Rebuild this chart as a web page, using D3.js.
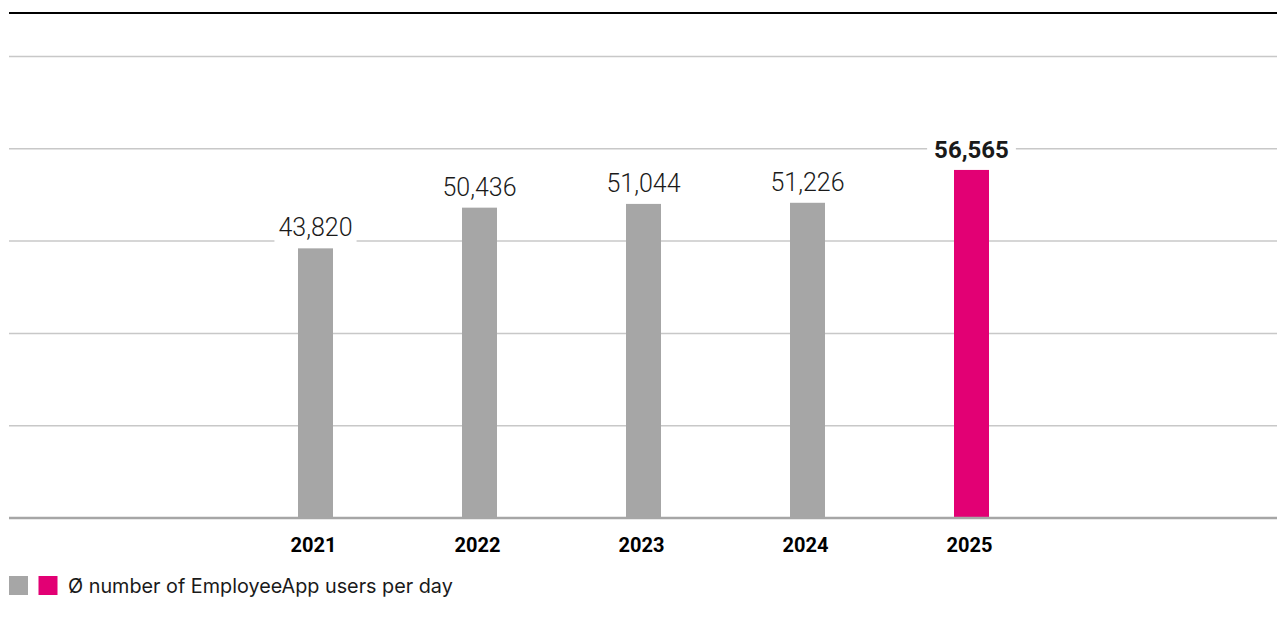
<!DOCTYPE html>
<html>
<head>
<meta charset="utf-8">
<script src="https://cdn.jsdelivr.net/npm/d3@7"></script>
<style>
  body { margin: 0; background: #fff; }
  svg { display: block; }
</style>
</head>
<body>
<div id="chart"></div>
<script>
// chart data
var years = ["2021", "2022", "2023", "2024", "2025"];
var users = [43820, 50436, 51044, 51226, 56565];
var yTicks = [0, 15000, 30000, 45000, 60000, 75000];
var legendLabel = "Ø number of EmployeeApp users per day";

var W = 1277, H = 618;
var left = 9, right = 1277;
var fontFam = "Roboto, 'Noto Sans', sans-serif";

var svg = d3.select("#chart").append("svg")
    .attr("width", W)
    .attr("height", H);

// scales
var x = d3.scaleBand()
    .domain(years)
    .range([233.5, 1053.5])
    .paddingInner(0.7866)
    .paddingOuter(0.3933);

var y = d3.scaleLinear()
    .domain([0, 75000])
    .range([518, 56.5]);

// top rule
svg.append("line")
    .attr("x1", left).attr("x2", right)
    .attr("y1", 13).attr("y2", 13)
    .style("stroke", "#000")
    .style("stroke-width", 2);

// gridlines
svg.append("g").selectAll("line")
    .data(yTicks.slice(1))
    .enter().append("line")
    .attr("x1", left).attr("x2", right)
    .attr("y1", function(d) { return y(d); })
    .attr("y2", function(d) { return y(d); })
    .style("stroke", "#c8c8c8")
    .style("stroke-width", 1.5);

// bars
var data = years.map(function(d, i) { return {year: d, value: users[i], last: i == years.length - 1}; });

svg.append("g").selectAll("rect")
    .data(data)
    .enter().append("rect")
    .attr("x", function(d) { return x(d.year); })
    .attr("width", x.bandwidth())
    .attr("y", function(d) { return y(d.value); })
    .attr("height", function(d) { return y(0) - y(d.value); })
    .style("fill", function(d) { return d.last ? "#e20074" : "#a6a6a6"; });

// baseline
svg.append("line")
    .attr("x1", left).attr("x2", right)
    .attr("y1", y(0)).attr("y2", y(0))
    .style("stroke", "#a6a6a6")
    .style("stroke-width", 2.5);

// value labels with white knockout
var labels = svg.append("g").selectAll("g")
    .data(data)
    .enter().append("g");

labels.append("rect").attr("class", "bg").style("fill", "#fff");

labels.append("text")
    .attr("x", function(d) { return x(d.year) + x.bandwidth() / 2; })
    .attr("y", function(d) { return y(d.value) - 12; })
    .attr("text-anchor", "middle")
    .style("font-family", fontFam)
    .style("font-size", function(d) { return d.last ? "24px" : "25px"; })
    .style("font-weight", function(d) { return d.last ? 700 : 300; })
    .style("fill", "#1a1a1a")
    .text(function(d) { return d3.format(",")(d.value); });

labels.each(function(d) {
    var g = d3.select(this);
    var bb = g.select("text").node().getBBox();
    var pad = d.last ? 7 : 4;
    g.select("rect.bg")
        .attr("x", bb.x - pad).attr("y", bb.y)
        .attr("width", bb.width + 2 * pad).attr("height", bb.height);
});

// year labels
svg.append("g").selectAll("text")
    .data(years)
    .enter().append("text")
    .attr("x", function(d) { return x(d) + x.bandwidth() / 2 - 2; })
    .attr("y", 552)
    .attr("text-anchor", "middle")
    .style("font-family", fontFam)
    .style("font-size", "20px")
    .style("font-weight", 700)
    .style("fill", "#000")
    .text(function(d) { return d; });

// legend
var legend = svg.append("g").attr("transform", "translate(9,576)");
legend.selectAll("rect")
    .data(["#a6a6a6", "#e20074"])
    .enter().append("rect")
    .attr("x", function(d, i) { return i * 29.5; })
    .attr("width", 19).attr("height", 19)
    .style("fill", function(d) { return d; });

legend.append("text")
    .attr("x", 59)
    .attr("y", 17)
    .style("font-family", "Inter, Roboto, sans-serif")
    .style("font-size", "19.8px")
    .style("fill", "#1a1a1a")
    .text(legendLabel);
</script>
</body>
</html>
